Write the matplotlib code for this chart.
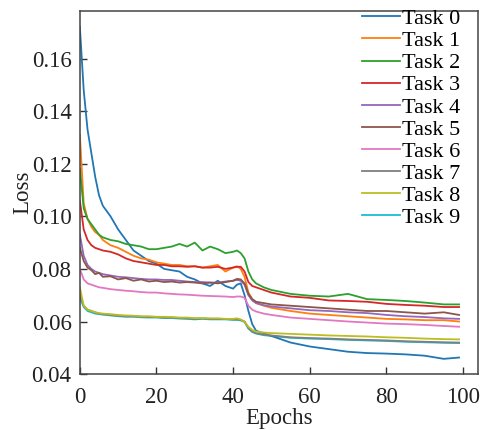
#!/usr/bin/env python3
"""
Loss per task over training epochs
"""

import matplotlib
matplotlib.use('Agg')
import matplotlib.pyplot as plt

plt.rcParams['font.family'] = ['Liberation Serif', 'DejaVu Serif']

epochs = [0, 1, 2, 3, 4, 5, 6, 8, 10, 12, 14, 16, 18, 20, 22, 24, 26, 28, 30, 32,
          34, 36, 38, 40, 41, 42, 43, 44, 45, 46, 48, 50, 55, 60, 65, 70, 75, 80,
          85, 90, 95, 99]

task0 = [0.172, 0.148, 0.133, 0.124, 0.115, 0.108, 0.104, 0.100, 0.095, 0.091, 0.087,
         0.085, 0.083, 0.082, 0.080, 0.0795, 0.079, 0.077, 0.076, 0.0745, 0.0735,
         0.0755, 0.0735, 0.0725, 0.074, 0.0745, 0.070, 0.064, 0.059, 0.0565, 0.0555,
         0.0545, 0.052, 0.0505, 0.0495, 0.0485, 0.048, 0.0478, 0.0475, 0.047, 0.0458,
         0.0463]
task1 = [0.131, 0.105, 0.099, 0.096, 0.094, 0.093, 0.091, 0.089, 0.088, 0.0865, 0.085,
         0.084, 0.0835, 0.0825, 0.082, 0.0815, 0.0815, 0.081, 0.081, 0.0805, 0.081,
         0.0815, 0.079, 0.0805, 0.081, 0.080, 0.077, 0.071, 0.0685, 0.067, 0.066,
         0.0652, 0.064, 0.063, 0.0625, 0.062, 0.0615, 0.061, 0.0608, 0.0605, 0.0605,
         0.060]
task2 = [0.118, 0.103, 0.099, 0.097, 0.095, 0.093, 0.092, 0.091, 0.0905, 0.0895, 0.089,
         0.0885, 0.0875, 0.0875, 0.088, 0.0885, 0.0895, 0.0885, 0.090, 0.087, 0.0885,
         0.0875, 0.086, 0.0865, 0.087, 0.086, 0.084, 0.079, 0.076, 0.0745, 0.073,
         0.072, 0.0705, 0.0698, 0.0695, 0.0705, 0.0685, 0.0682, 0.0678, 0.0672, 0.0665,
         0.0665]
task3 = [0.106, 0.095, 0.091, 0.089, 0.088, 0.0875, 0.087, 0.0865, 0.0855, 0.084, 0.083,
         0.0825, 0.082, 0.0815, 0.0815, 0.081, 0.081, 0.0808, 0.081, 0.0805, 0.0805,
         0.0808, 0.080, 0.0805, 0.0808, 0.0808, 0.079, 0.075, 0.0735, 0.073, 0.072,
         0.071, 0.0695, 0.069, 0.068, 0.0678, 0.0675, 0.0667, 0.0663, 0.066, 0.0655,
         0.0655]
task4 = [0.093, 0.085, 0.0815, 0.080, 0.079, 0.0785, 0.078, 0.0775, 0.077, 0.0768,
         0.0765, 0.0762, 0.076, 0.076, 0.0758, 0.0758, 0.0755, 0.0752, 0.075, 0.075,
         0.0748, 0.0748, 0.0752, 0.0755, 0.0758, 0.0755, 0.074, 0.070, 0.068, 0.067,
         0.0662, 0.0657, 0.065, 0.0643, 0.064, 0.0635, 0.0632, 0.0625, 0.062, 0.0617,
         0.0612, 0.061]
task5 = [0.088, 0.083, 0.0805, 0.0795, 0.078, 0.0785, 0.077, 0.0772, 0.076, 0.0765,
         0.0755, 0.076, 0.0752, 0.0755, 0.075, 0.0752, 0.0748, 0.075, 0.0748, 0.0745,
         0.0748, 0.0745, 0.075, 0.0755, 0.0762, 0.076, 0.0745, 0.0705, 0.0685, 0.0675,
         0.067, 0.0665, 0.066, 0.0655, 0.065, 0.0645, 0.064, 0.064, 0.0635, 0.063,
         0.0635, 0.0625]
task6 = [0.080, 0.076, 0.0745, 0.074, 0.0735, 0.073, 0.0728, 0.0723, 0.072, 0.0717,
         0.0715, 0.0712, 0.071, 0.071, 0.0707, 0.0705, 0.0703, 0.0702, 0.070, 0.0698,
         0.0697, 0.0696, 0.0695, 0.0693, 0.0695, 0.0695, 0.069, 0.066, 0.0645, 0.0638,
         0.063, 0.0625, 0.0615, 0.061, 0.0605, 0.060, 0.0596, 0.0592, 0.059, 0.0587,
         0.0583, 0.058]
task7 = [0.070, 0.066, 0.0645, 0.064, 0.0635, 0.063, 0.0628, 0.0625, 0.0622, 0.062,
         0.062, 0.0618, 0.0617, 0.0617, 0.0615, 0.0615, 0.0613, 0.0612, 0.061, 0.0612,
         0.061, 0.061, 0.061, 0.0608, 0.0608, 0.0606, 0.060, 0.0575, 0.0562, 0.0556,
         0.055, 0.0547, 0.054, 0.0537, 0.0535, 0.0532, 0.053, 0.0528, 0.0525, 0.0523,
         0.0521, 0.052]
task8 = [0.073, 0.066, 0.0645, 0.064, 0.0635, 0.0632, 0.063, 0.0628, 0.0625, 0.0623,
         0.0622, 0.062, 0.062, 0.0618, 0.0618, 0.0617, 0.0615, 0.0615, 0.0613, 0.0613,
         0.0612, 0.0612, 0.061, 0.061, 0.0612, 0.0608, 0.0598, 0.058, 0.0568, 0.0562,
         0.0558, 0.0556, 0.0553, 0.055, 0.0547, 0.0545, 0.0543, 0.054, 0.0538, 0.0535,
         0.0533, 0.0532]
# task 9 is hidden under the others in the original
task9 = [0.069, 0.0655, 0.064, 0.0635, 0.063, 0.0628, 0.0626, 0.0623, 0.062, 0.0618,
         0.0618, 0.0616, 0.0615, 0.0615, 0.0613, 0.0613, 0.0611, 0.061, 0.0608, 0.061,
         0.0608, 0.0608, 0.0608, 0.0606, 0.0606, 0.0604, 0.0598, 0.0573, 0.056, 0.0554,
         0.0548, 0.0545, 0.0538, 0.0535, 0.0533, 0.053, 0.0528, 0.0526, 0.0523, 0.0521,
         0.0519, 0.0518]

tasks = [task0, task1, task2, task3, task4, task5, task6, task7, task8, task9]
labels = [f'Task {i}' for i in range(10)]

fig = plt.figure(figsize=(4.87, 4.30), dpi=100)
ax = fig.add_axes([0.164, 0.130, 0.818, 0.844])

for i, (vals, lab) in enumerate(zip(tasks, labels)):
    z = 1.5 if i == 9 else 2
    ax.plot(epochs, vals, color=f'C{i}', lw=1.3, label=lab, zorder=z)

ax.set_xlim(0, 104)
ax.set_ylim(0.04, 0.178)
ax.set_xticks([0, 20, 40, 60, 80, 100])
ax.set_yticks([0.04, 0.06, 0.08, 0.10, 0.12, 0.14, 0.16])
ax.set_yticklabels(['0.04', '0.06', '0.08', '0.10', '0.12', '0.14', '0.16'])
ax.tick_params(direction='in', length=5, width=1, labelsize=16.5, colors='#333333',
               labelcolor='#222222')
ax.tick_params(axis='x', pad=9)
ax.tick_params(axis='y', pad=6)
for s in ax.spines.values():
    s.set_color('#444444')
    s.set_linewidth(1.1)

ax.set_xlabel('Epochs', fontsize=16.5, labelpad=0, color='#222222')
ax.set_ylabel('Loss', fontsize=16.5, labelpad=-1, color='#222222')

ax.legend(loc='upper right', bbox_to_anchor=(0.995, 1.05), frameon=False,
          fontsize=16, handlelength=1.7, handletextpad=0.1, labelspacing=0.07,
          borderpad=0.2)

plt.savefig('out.png', dpi=100)
plt.close('all')
